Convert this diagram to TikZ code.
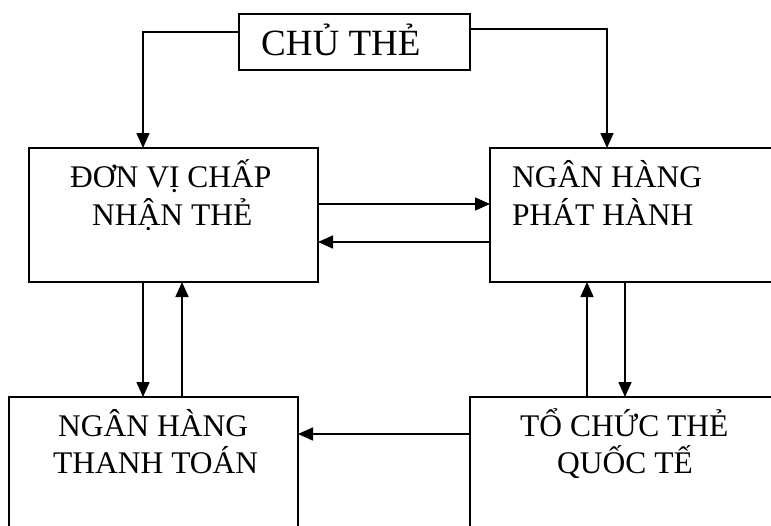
\documentclass[tikz,border=0pt]{standalone}
\usepackage{fontspec}
\setmainfont{Liberation Serif}
\usetikzlibrary{arrows.meta}
\begin{document}
\begin{tikzpicture}[x=1pt,y=-1pt,
  box/.style={draw, line width=1.6pt, rectangle, outer sep=0pt, inner sep=0pt, anchor=north west},
  lbl/.style={anchor=base west, inner sep=0pt, font=\fontsize{31.5}{37}\selectfont},
  flow/.style={line width=1.6pt, -{Triangle[length=15pt,width=13pt]}}]
  \path[use as bounding box, clip] (0,0) rectangle (771,525);
  \fill[white] (0,0) rectangle (771,525);

  % boxes
  \node[box, minimum width=231pt, minimum height=56pt] (chu) at (239,14) {};
  \node[box, minimum width=289pt, minimum height=134pt] (dv) at (29,148) {};
  \node[box, minimum width=320pt, minimum height=134pt] (ph) at (490,148) {};
  \node[box, minimum width=289pt, minimum height=160pt] (tt) at (9,397) {};
  \node[box, minimum width=340pt, minimum height=160pt] (tc) at (470,397) {};

  % labels
  \node[anchor=base west, inner sep=0pt, font=\fontsize{37}{42}\selectfont] (tchu) at (261,55) {CHỦ THẺ};
  \node[lbl] (tdv1) at (70,187) {ĐƠN VỊ CHẤP};
  \node[lbl] (tdv2) at (92,225) {NHẬN THẺ};
  \node[lbl] (tph1) at (512,187) {NGÂN HÀNG};
  \node[lbl] (tph2) at (512,225) {PHÁT HÀNH};
  \node[lbl] (ttt1) at (58,436) {NGÂN HÀNG};
  \node[lbl] (ttt2) at (53,473) {THANH TOÁN};
  \node[lbl] (ttc1) at (520,436) {TỔ CHỨC THẺ};
  \node[lbl] (ttc2) at (557,473) {QUỐC TẾ};

  % connectors
  \draw[flow] (chu.west |- 0,32) -| (dv.north -| 143,0);
  \draw[flow] (chu.east |- 0,29) -| (ph.north -| 607,0);
  \draw[flow] (dv.east |- 0,204) -- (ph.west |- 0,204);
  \draw[flow] (ph.west |- 0,242) -- (dv.east |- 0,242);
  \draw[flow] (dv.south -| 143,0) -- (tt.north -| 143,0);
  \draw[flow] (tt.north -| 182,0) -- (dv.south -| 182,0);
  \draw[flow] (tc.north -| 587,0) -- (ph.south -| 587,0);
  \draw[flow] (ph.south -| 625,0) -- (tc.north -| 625,0);
  \draw[flow] (tc.west |- 0,434) -- (tt.east |- 0,434);
\end{tikzpicture}
\end{document}
